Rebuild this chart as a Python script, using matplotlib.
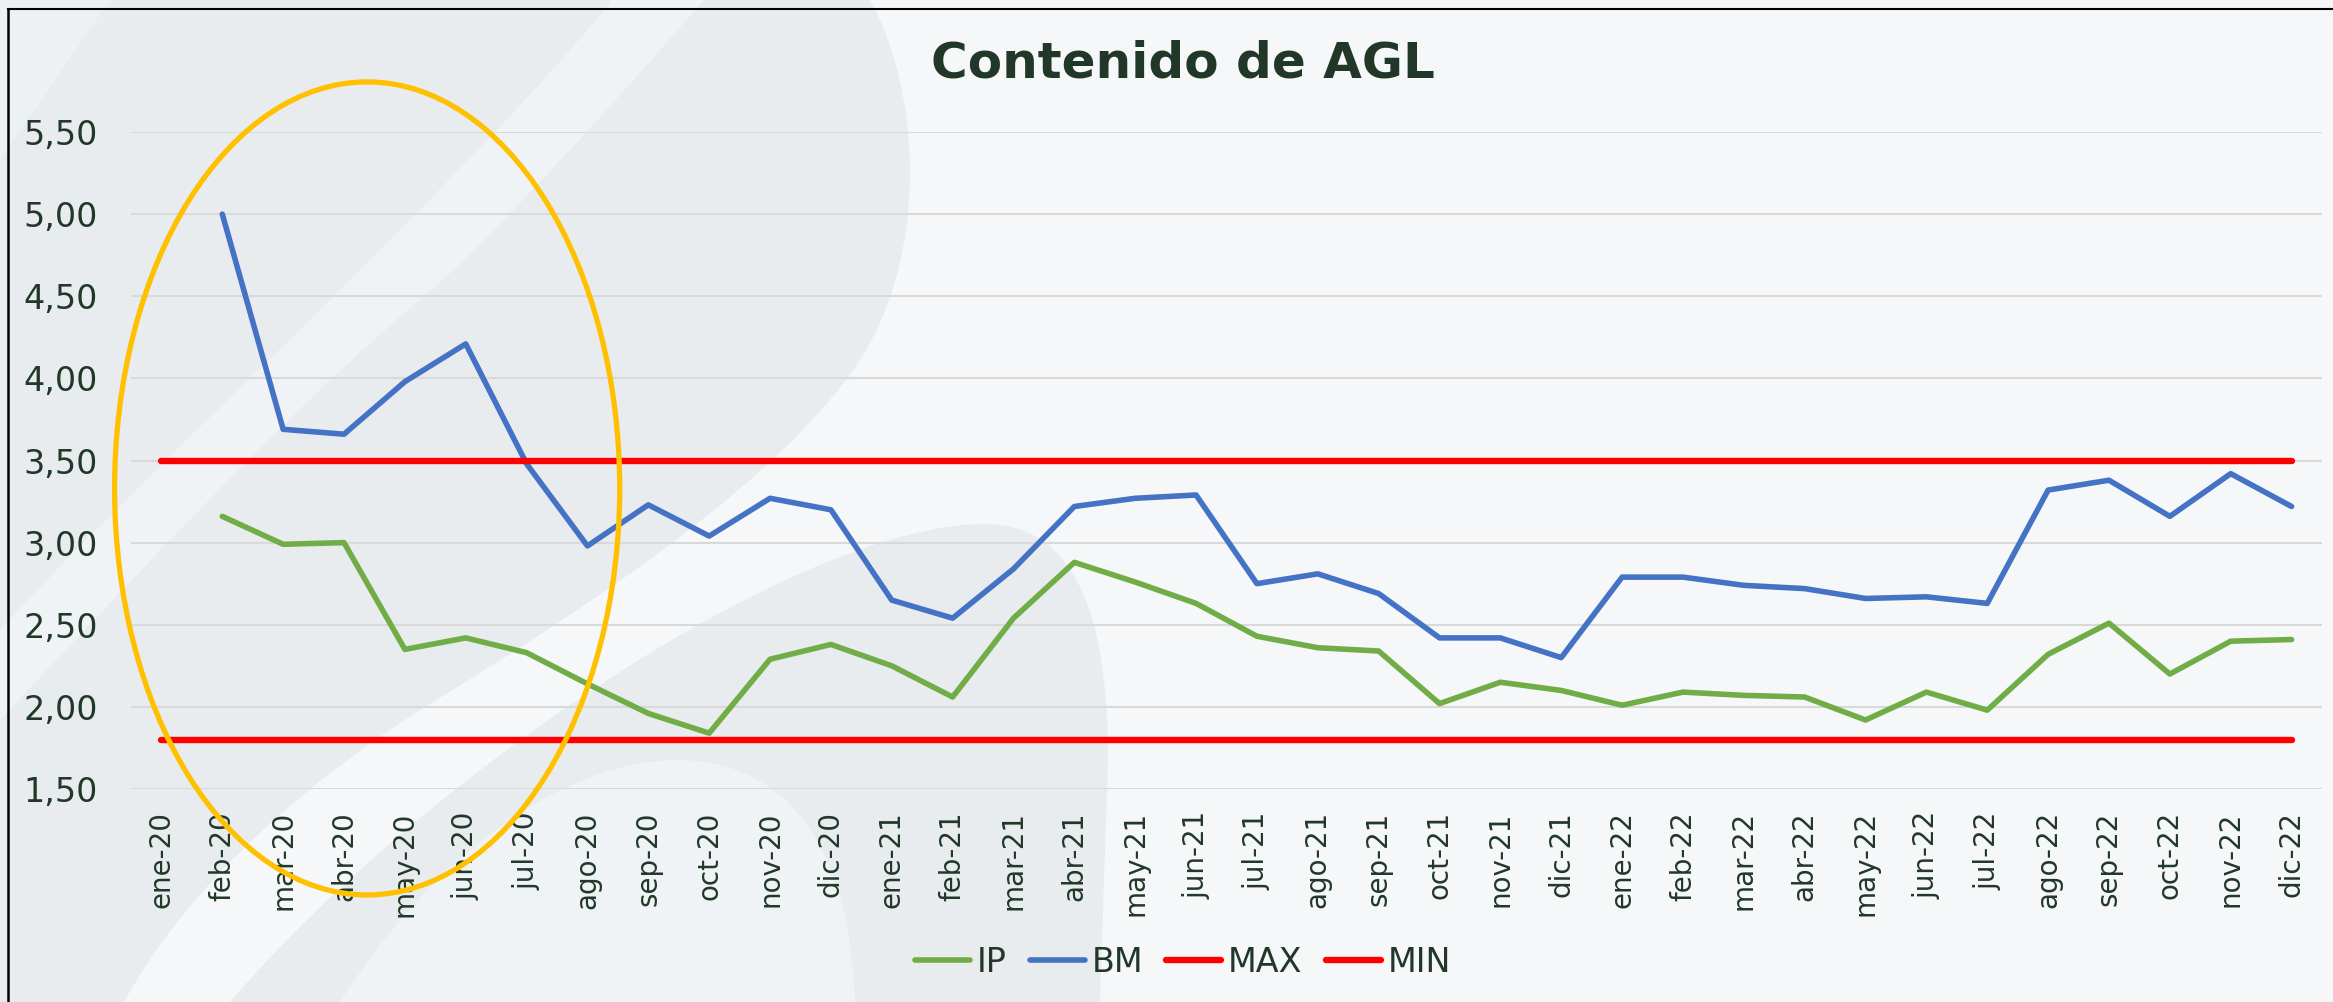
import numpy as np
import matplotlib
matplotlib.use("Agg")
import matplotlib.pyplot as plt
import matplotlib.patches as patches
from matplotlib.path import Path
from matplotlib.lines import Line2D

# Data
month_names = ["ene", "feb", "mar", "abr", "may", "jun", "jul", "ago", "sep", "oct", "nov", "dic"]
years = ["20", "21", "22"]
months = [f"{m}-{y}" for y in years for m in month_names]

ip_values = [np.nan, 3.16, 2.99, 3.00, 2.35, 2.42, 2.33, 2.14, 1.96, 1.84, 2.29, 2.38,
             2.25, 2.06, 2.54, 2.88, 2.76, 2.63, 2.43, 2.36, 2.34, 2.02, 2.15, 2.10,
             2.01, 2.09, 2.07, 2.06, 1.92, 2.09, 1.98, 2.32, 2.51, 2.20, 2.40, 2.41]
bm_values = [np.nan, 5.00, 3.69, 3.66, 3.98, 4.21, 3.48, 2.98, 3.23, 3.04, 3.27, 3.20,
             2.65, 2.54, 2.84, 3.22, 3.27, 3.29, 2.75, 2.81, 2.69, 2.42, 2.42, 2.30,
             2.79, 2.79, 2.74, 2.72, 2.66, 2.67, 2.63, 3.32, 3.38, 3.16, 3.42, 3.22]
max_limit = 3.5
min_limit = 1.8
y_ticks = [1.5, 2.0, 2.5, 3.0, 3.5, 4.0, 4.5, 5.0, 5.5]

TEXT_COLOR = "#213829"
FONT = ["DejaVu Sans"]

W, H = 2333, 1002
fig = plt.figure(figsize=(W / 100, H / 100), dpi=100)
fig.patch.set_facecolor("#F6F7F8")

# Background decoration (pixel coords, y pointing down)
bg = fig.add_axes([0, 0, 1, 1], zorder=-10)
bg.set_xlim(0, W)
bg.set_ylim(H, 0)
bg.axis("off")


def add_shape(verts, codes, color):
    bg.add_patch(patches.PathPatch(Path(verts, codes), facecolor=color, edgecolor="none"))


M, L, C, Z = Path.MOVETO, Path.LINETO, Path.CURVE4, Path.CLOSEPOLY

# big darker region on the left
add_shape([(0, 0), (870, 0),
           (920, 90), (930, 250), (860, 360),
           (780, 480), (600, 600), (420, 710),
           (280, 800), (180, 900), (124, 1002),
           (0, 1002), (0, 0)],
          [M, L, C, C, C, C, C, C, C, C, C, L, Z], "#E9ECEF")
# lighter diagonal band
add_shape([(612, 0), (704, 0),
           (600, 120), (480, 250), (420, 300),
           (300, 400), (150, 560), (0, 720),
           (0, 630),
           (120, 500), (250, 380), (330, 300),
           (420, 210), (540, 90), (612, 0)],
          [M, L, C, C, C, C, C, C, L, C, C, C, C, C, C], "#F0F3F5")
# small light corner
add_shape([(0, 0), (110, 0), (0, 160), (0, 0)], [M, L, L, Z], "#EEF1F3")
# bottom tongue
add_shape([(230, 1002),
           (420, 780), (800, 520), (990, 524),
           (1090, 528), (1108, 650), (1108, 760),
           (1100, 1002), (230, 1002)],
          [M, C, C, C, C, C, C, L, Z], "#E9ECEF")
# lighter lens inside the tongue
add_shape([(340, 1002),
           (430, 860), (560, 760), (680, 760),
           (790, 762), (850, 850), (855, 1002),
           (340, 1002)],
          [M, C, C, C, C, C, C, Z], "#F0F3F5")

# outer frame (left and top edges)
bg.add_line(Line2D([8, 8], [9, H], color="black", linewidth=1.8))
bg.add_line(Line2D([8, W], [9, 9], color="black", linewidth=1.5))

# Main chart
ax = fig.add_axes([131 / W, 1 - 789 / H, (2322 - 131) / W, (789 - 132) / H], zorder=1)
ax.set_facecolor("none")

x = np.arange(len(months))
ax.plot(x, ip_values, color="#70AD47", linewidth=4.0, solid_capstyle="round",
        solid_joinstyle="round", label="IP", zorder=3)
ax.plot(x, bm_values, color="#4472C4", linewidth=4.0, solid_capstyle="round",
        solid_joinstyle="round", label="BM", zorder=3)
ax.plot(x, [max_limit] * len(months), color="#FF0000", linewidth=4.6,
        solid_capstyle="round", label="MAX", zorder=4)
ax.plot(x, [min_limit] * len(months), color="#FF0000", linewidth=4.6,
        solid_capstyle="round", label="MIN", zorder=4)

ax.set_xlim(-0.5, len(months) - 0.5)
ax.set_ylim(1.5, 5.5)
ax.set_yticks(y_ticks)
ax.set_yticklabels([f"{v:.2f}".replace(".", ",") for v in y_ticks],
                   fontsize=24, color=TEXT_COLOR, family=FONT)
ax.set_xticks(x)
ax.set_xticklabels(months, rotation=90, fontsize=20, color=TEXT_COLOR, family=FONT)
ax.tick_params(axis="y", length=0, pad=24)
ax.tick_params(axis="x", length=0, pad=16)
ax.yaxis.grid(True, color="#D9D9D9", linewidth=1.5)
ax.set_axisbelow(True)
for spine in ax.spines.values():
    spine.set_visible(False)

# Highlight ellipse around the first months
ellipse = patches.Ellipse((3.38, 3.33), width=8.3, height=4.95, fill=False,
                          edgecolor="#FFC000", linewidth=3.8, clip_on=False, zorder=10)
ax.add_patch(ellipse)

# Title and legend
fig.text(0.507, 1 - 64 / H, "Contenido de AGL", ha="center", va="center",
         fontsize=36, fontweight="bold", color=TEXT_COLOR, family=FONT)

leg = fig.legend(loc="center", bbox_to_anchor=(0.507, 1 - 962 / H), ncol=4, frameon=False,
                 handlelength=1.65, handletextpad=0.2, columnspacing=0.7,
                 prop={"size": 24, "family": FONT})
for text in leg.get_texts():
    text.set_color(TEXT_COLOR)

fig.savefig("out.png", dpi=100, facecolor=fig.get_facecolor())
